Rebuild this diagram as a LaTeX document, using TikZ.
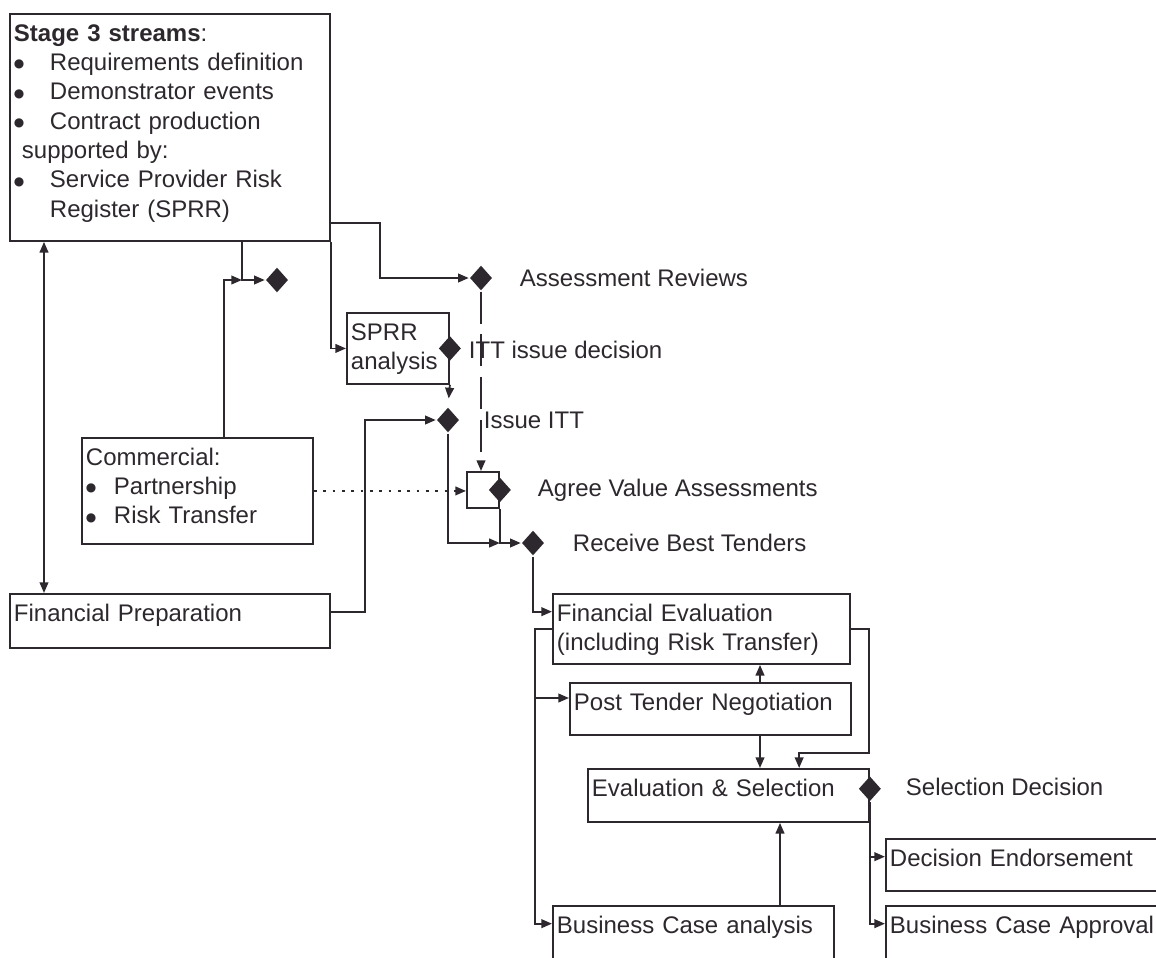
\documentclass[tikz,border=0pt]{standalone}
\usepackage{fontspec}
\setmainfont{Liberation Sans}
\newfontfamily\symfont{DejaVu Sans}
\usetikzlibrary{arrows.meta,shapes.geometric,calc}
\definecolor{ink}{RGB}{45,40,45}
\newcommand\bul[1][27pt]{\makebox[#1][l]{\raisebox{2pt}{\symfont\fontsize{9}{10}\selectfont ●}}}

\begin{document}
\begin{tikzpicture}[x=0.75pt, y=-0.75pt,
    font=\fontsize{18}{22}\selectfont,
    line width=1.4pt, color=ink,
    >={Triangle[length=8pt,width=6.5pt]},
    box/.style={draw, anchor=north west, align=left, inner xsep=3pt,
      inner ysep=7.5pt, text height=13pt},
    dia/.style={diamond, fill=ink, inner sep=0pt, minimum width=17pt, minimum height=19pt},
    lbl/.style={anchor=west, inner sep=0pt},
    longdash/.style={dash pattern=on 24pt off 8pt},
    dots/.style={line width=2pt, dash pattern=on 2pt off 5pt}]
  \useasboundingbox (0,0) rectangle (1156,957);
  \clip (0,0) rectangle (1156,957);

  % boxes
  \node[box, text width=234pt, text depth=142.25pt] (stage) at (9,13)
    {\textbf{Stage 3 streams}:\\
     \bul Requirements definition\\
     \bul Demonstrator events\\
     \bul Contract production\\
     \hspace*{6pt}supported by:\\
     \bul Service Provider Risk\\
     \hspace*{27pt}Register (SPRR)};
  \node[box, text width=70.5pt, text depth=25.25pt] (sprr) at (346,312) {SPRR\\analysis};
  \node[box, text width=167.25pt, text depth=51.5pt] (comm) at (81,437)
    {Commercial:\\ \bul[21pt]Partnership\\ \bul[21pt]Risk Transfer};
  \node[box, text width=234pt, text depth=12.5pt] (finprep) at (9,593) {Financial Preparation};
  \node[draw, anchor=north west, inner sep=0pt, minimum width=24pt, minimum height=27pt] (agree) at (466,471) {};
  \node[box, text width=216.75pt, text depth=24.5pt] (fineval) at (552,593)
    {Financial Evaluation\\(including Risk Transfer)};
  \node[box, text width=204.75pt, text depth=11pt] (ptn) at (569,682) {Post Tender Negotiation};
  \node[box, text width=204.75pt, text depth=11.75pt] (evsel) at (587,768) {Evaluation \& Selection};
  \node[box, text width=204pt, text depth=11pt] (decend) at (885,838) {Decision Endorsement};
  \node[box, text width=204.75pt, text depth=32pt] (bcana) at (552,905) {Business Case analysis};
  \node[box, text width=204pt, text depth=32pt] (bcapp) at (885,905) {Business Case Approval};

  % decision points
  \node[dia] (d1) at (277,280) {};
  \node[dia] (dassess) at (481,278) {};
  \node[dia] (ditt) at (sprr.east) {};
  \node[dia] (dissue) at (448,420) {};
  \node[dia] (dagree) at (agree.east) {};
  \node[dia] (dbest) at (533,543) {};
  \node[dia] (dsel) at ([yshift=5pt]evsel.east) {};

  \node[lbl] (lassess) at (519,278) {Assessment Reviews};
  \node[lbl] (litt) at (468,350) {ITT issue decision};
  \node[lbl] (lissue) at (483,420) {Issue ITT};
  \node[lbl] (lagree) at (537,490) {Agree Value Assessments};
  \node[lbl] (lbest) at (572,543) {Receive Best Tenders};
  \node[lbl] (lsel) at (905,787) {Selection Decision};

  % connectors
  \coordinate (j1) at (242,280);
  \draw[<->] ([xshift=26.25pt]stage.south west) -- ([xshift=26.25pt]finprep.north west);
  \draw[->] (stage.south -| j1) -- (j1) -- (d1.west);
  \draw[->] ([xshift=107.25pt]comm.north west) |- (j1);
  \draw[->] (stage.east |- 0,223) -| (dassess.west -| 380,0) -- (dassess.west);
  \draw[->] (stage.south east) |- (sprr.west);
  \draw[->, shorten >=6pt] (sprr.south east) -- (dissue.north);
  \draw[->, longdash] (dassess.south) -- (agree.north -| dassess);
  \draw[dots] (comm.east) -- ([xshift=-6pt]comm.east -| agree.west);
  \draw[->] ([xshift=-6pt]comm.east -| agree.west) -- (comm.east -| agree.west);
  \draw[->] ([yshift=7pt]finprep.east) -- ++(34,0) |- (dissue.west);
  \draw[->] (dissue.south) |- (agree.east |- dbest.west);
  \draw[->] (agree.south east) |- (dbest.west);
  \draw[->] (dbest.south) |- ([yshift=-14pt]fineval.north west);

  \coordinate (fork) at ([xshift=-12.75pt]fineval.west);
  \draw[->] (fineval.west) -- (fork) |- ([yshift=-14pt]bcana.north west);
  \draw[->] (fork) |- ([yshift=-12pt]ptn.north west);
  \draw[->] (fineval.east) -- ++(18,0) -- ++(0,124)
    -| ($(evsel.north west)!0.75!(evsel.north east)$);
  \draw[->] (ptn.north -| 760,0) -- (fineval.south -| 760,0);
  \draw[->] (ptn.south -| 760,0) -- (evsel.north -| 760,0);
  \draw[->] (bcana.north -| 780,0) -- (evsel.south -| 780,0);
  \draw[->] (dsel.south) |- ([yshift=-14pt]decend.north west);
  \draw[->] (dsel.south) |- ([yshift=-14pt]bcapp.north west);
\end{tikzpicture}
\end{document}
